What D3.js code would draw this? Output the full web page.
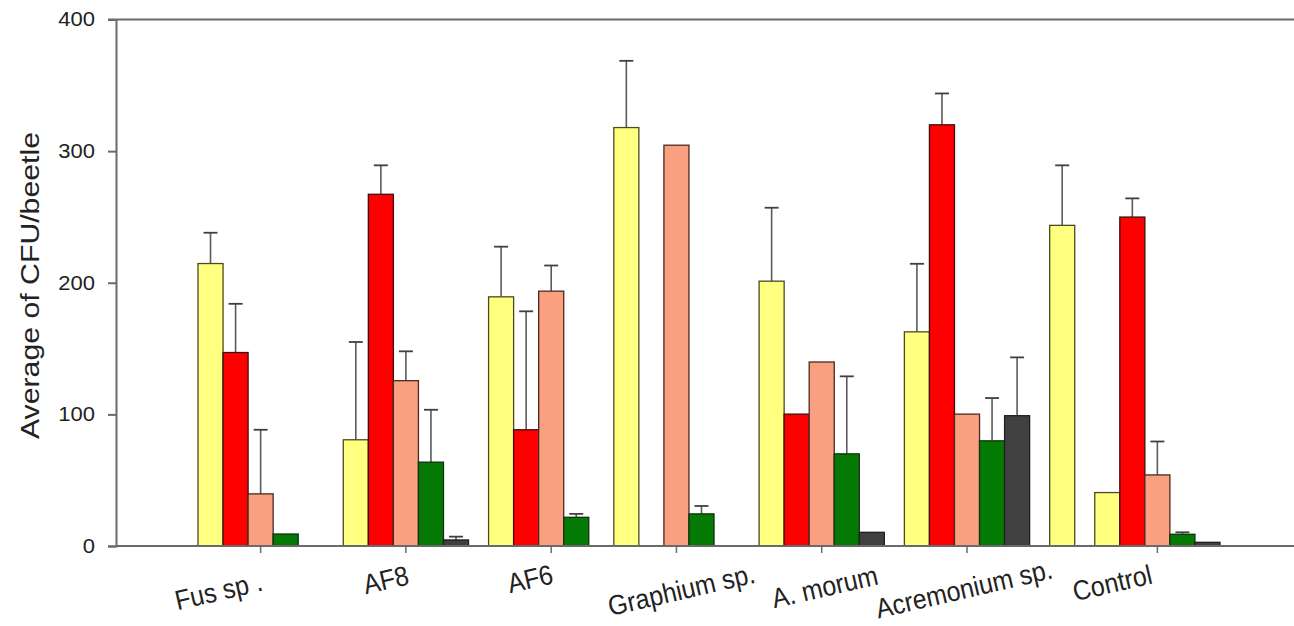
<!DOCTYPE html>
<html>
<head>
<meta charset="utf-8">
<script src="https://cdn.jsdelivr.net/npm/d3@7"></script>
<style>
  html, body { margin: 0; padding: 0; background: #ffffff; }
  svg { display: block; }
  text { font-family: "Liberation Sans", Arial, sans-serif; fill: #222; }
</style>
</head>
<body>
<svg id="chart" width="1294" height="626"></svg>
<script>
// ---------------- DATA ----------------
const categories = ["Fus sp .", "AF8", "AF6", "Graphium sp.", "A. morum", "Acremonium sp.", "", "Control"];

// series values (CFU/beetle)
const yellowValues = [214.6, 80.7, 189.3, 317.9, 201.2, 162.7, 243.6, 40.6];
const redValues    = [147.0, 267.2, 88.3, null, 100.2, 320.0, null, 249.9];
const salmonValues = [39.6, 125.6, 193.6, 304.5, 139.8, 100.2, null, 54.0];
const greenValues  = [9.1, 63.7, 21.8, 24.4, 70.0, 79.9, null, 8.9];
const darkValues   = [null, 4.6, null, null, 10.4, 99.0, null, 2.8];

// error bars (upper)
const yellowErrors = [23.4, 74.3, 38.1, 50.7, 55.8, 51.7, 45.6, null];
const redErrors    = [37.0, 22.0, 90.0, null, null, 23.8, null, 14.2];
const salmonErrors = [48.7, 22.3, 19.5, null, null, null, null, 25.4];
const greenErrors  = [null, 39.8, 2.6, 6.0, 58.9, 32.5, null, 1.5];
const darkErrors   = [null, 2.5, null, null, null, 44.3, null, null];

const yTicks = [0, 100, 200, 300, 400];
const yLabel = "Average of CFU/beetle";

// ---------------- LAYOUT ----------------
const series = [
  {values: yellowValues, errors: yellowErrors, fill: "#FFFF80", stroke: "#4a4a20"},
  {values: redValues,    errors: redErrors,    fill: "#FF0000", stroke: "#3a1010"},
  {values: salmonValues, errors: salmonErrors, fill: "#FAA080", stroke: "#4a2a20"},
  {values: greenValues,  errors: greenErrors,  fill: "#047A04", stroke: "#103010"},
  {values: darkValues,   errors: darkErrors,   fill: "#404040", stroke: "#202020"}
];

// slot layout: each labelled group holds 5 slots; unlabelled extra group holds 1
const groupSlots = categories.map(c => c === "" ? 1 : series.length);
const gapBefore = categories.map((c, i) => i === 0 ? 0 : (c === "Graphium sp." ? 0 : 0.8));
const groupStart = [];
let acc = 0;
categories.forEach((c, i) => { acc += gapBefore[i]; groupStart.push(acc); acc += groupSlots[i]; });
const totalUnits = acc;

const svg = d3.select("#chart");
const x = d3.scaleLinear().domain([0, totalUnits]).range([198, 1220]);
const y = d3.scaleLinear().domain([0, 400]).range([546, 19.5]);
const slotW = x(1) - x(0);

// bars
const bars = [];
categories.forEach((c, gi) => {
  series.forEach((s, si) => {
    if (si >= groupSlots[gi]) return;
    const v = s.values[gi];
    if (v == null) return;
    bars.push({gi, si, v, e: s.errors[gi], s});
  });
});

const g = svg.append("g");

// error bars
bars.filter(b => b.e != null).forEach(b => {
  const cx = x(groupStart[b.gi] + b.si + 0.5);
  g.append("line")
    .attr("x1", cx).attr("x2", cx)
    .attr("y1", y(b.v)).attr("y2", y(b.v + b.e))
    .attr("stroke", "#5a5a5a").attr("stroke-width", 1.6);
  g.append("line")
    .attr("x1", cx - 7).attr("x2", cx + 7)
    .attr("y1", y(b.v + b.e)).attr("y2", y(b.v + b.e))
    .attr("stroke", "#404040").attr("stroke-width", 1.8);
});

g.selectAll("rect.bar").data(bars).join("rect")
  .attr("class", "bar")
  .attr("x", b => x(groupStart[b.gi] + b.si))
  .attr("width", slotW)
  .attr("y", b => y(b.v))
  .attr("height", b => y(0) - y(b.v))
  .attr("fill", b => b.s.fill)
  .attr("stroke", b => b.s.stroke)
  .attr("stroke-width", 1.3);

// axes
const axisColor = "#6a6a6a";
svg.append("line").attr("x1", 108).attr("x2", 1294).attr("y1", y(400)).attr("y2", y(400))
  .attr("stroke", axisColor).attr("stroke-width", 2);
svg.append("line").attr("x1", 116).attr("x2", 1294).attr("y1", y(0)).attr("y2", y(0))
  .attr("stroke", axisColor).attr("stroke-width", 2);

const yAxis = d3.axisLeft(y).tickValues(yTicks).tickSize(8).tickPadding(12).tickFormat(d3.format("d"));
const yg = svg.append("g").attr("transform", "translate(116,0)").call(yAxis);
yg.select(".domain").attr("stroke", axisColor).attr("stroke-width", 2);
yg.selectAll(".tick line").attr("stroke", axisColor).attr("stroke-width", 2);
yg.selectAll(".tick text")
  .style("font-family", "'Liberation Sans', Arial, sans-serif")
  .style("font-size", "20px").attr("fill", "#222")
  .attr("transform", "scale(1.1,1)")
  .attr("x", -20 / 1.1 - 1);

// x ticks at labelled group centres
const labelled = categories.map((c, i) => ({c, i})).filter(d => d.c !== "");
svg.selectAll("line.xtick").data(labelled).join("line")
  .attr("class", "xtick")
  .attr("x1", d => x(groupStart[d.i] + groupSlots[d.i] / 2))
  .attr("x2", d => x(groupStart[d.i] + groupSlots[d.i] / 2))
  .attr("y1", y(0)).attr("y2", y(0) + 7)
  .attr("stroke", axisColor).attr("stroke-width", 1.5);

// x labels (rotated), small per-label nudges to match the original placement
const labelDx = {"Fus sp .": -42, "AF8": -20, "AF6": -21, "Graphium sp.": 5, "A. morum": 3, "Acremonium sp.": -3, "Control": -45};
const labelCy = {"Fus sp .": 591, "AF8": 580, "AF6": 579, "Graphium sp.": 590, "A. morum": 587, "Acremonium sp.": 589, "Control": 583};
svg.selectAll("text.xlabel").data(labelled).join("text")
  .attr("class", "xlabel")
  .attr("transform", d => {
    const cx = x(groupStart[d.i] + groupSlots[d.i] / 2) + labelDx[d.c];
    return `translate(${cx},${labelCy[d.c]}) rotate(-13) scale(1.04,1.15)`;
  })
  .attr("text-anchor", "middle")
  .attr("dominant-baseline", "central")
  .style("font-size", "24px")
  .text(d => d.c);

// y label
svg.append("text")
  .attr("transform", `translate(30,${(132 + 439) / 2}) rotate(-90)`)
  .attr("text-anchor", "middle")
  .attr("dominant-baseline", "central")
  .style("font-size", "26px")
  .attr("textLength", 307)
  .attr("lengthAdjust", "spacingAndGlyphs")
  .text(yLabel);
</script>
</body>
</html>
